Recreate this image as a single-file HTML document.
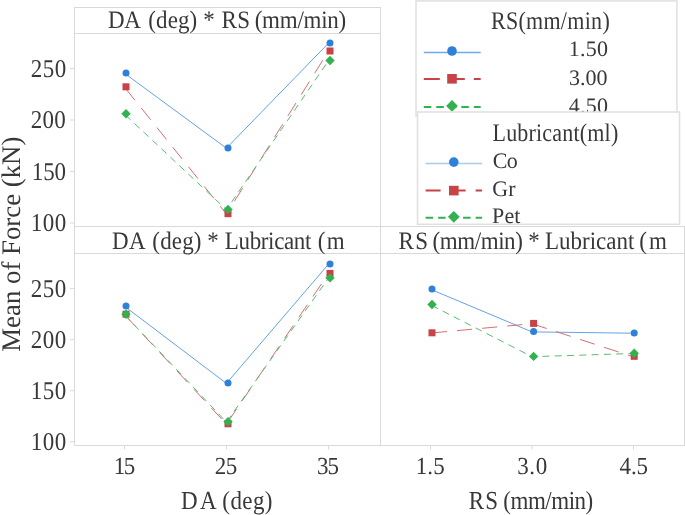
<!DOCTYPE html>
<html><head><meta charset="utf-8"><style>
html,body{margin:0;padding:0;background:#fff;}
body{width:685px;height:515px;overflow:hidden;}
svg{display:block;will-change:transform;font-family:"Liberation Serif",serif;}
text{fill:#383838;text-rendering:geometricPrecision;}
</style></head><body>
<svg width="685" height="515" viewBox="0 0 685 515">
<rect width="685" height="515" fill="#fff"/>
<rect x="74.5" y="7.5" width="306.0" height="219.0" fill="none" stroke="#d9d9d9" stroke-width="1"/>
<line x1="74.5" y1="33.5" x2="380.5" y2="33.5" stroke="#d9d9d9" stroke-width="1"/>
<rect x="74.5" y="226.5" width="306.0" height="219.0" fill="none" stroke="#d9d9d9" stroke-width="1"/>
<line x1="74.5" y1="253.5" x2="380.5" y2="253.5" stroke="#d9d9d9" stroke-width="1"/>
<rect x="380.5" y="226.5" width="304.0" height="219.0" fill="none" stroke="#d9d9d9" stroke-width="1"/>
<line x1="380.5" y1="253.5" x2="684.5" y2="253.5" stroke="#d9d9d9" stroke-width="1"/>
<text transform="translate(108.04,28.10) scale(1,1.0907)" font-size="23" letter-spacing="-0.311">DA</text>
<text transform="translate(148.37,28.10) scale(1,1.0907)" font-size="23" letter-spacing="0.090">(deg)</text>
<text transform="translate(203.17,28.10) scale(1,1.0907)" font-size="23">*</text>
<text transform="translate(221.52,28.10) scale(1,1.0907)" font-size="23" letter-spacing="0.309">RS</text>
<text transform="translate(254.71,28.10) scale(1,1.0907)" font-size="23" letter-spacing="-0.258">(mm/min)</text>
<text transform="translate(111.88,248.56) scale(1,1.0907)" font-size="23" letter-spacing="0.616">DA</text>
<text transform="translate(152.36,248.56) scale(1,1.0907)" font-size="23" letter-spacing="0.153">(deg)</text>
<text transform="translate(207.20,248.56) scale(1,1.0907)" font-size="23">*</text>
<text transform="translate(224.82,248.56) scale(1,1.0907)" font-size="23" letter-spacing="-0.358">Lubricant</text>
<text transform="translate(317.71,248.56) scale(1,1.0907)" font-size="23" letter-spacing="1.290">(m</text>
<text transform="translate(398.52,248.89) scale(1,1.0907)" font-size="23" letter-spacing="1.513">RS</text>
<text transform="translate(432.52,248.89) scale(1,1.0907)" font-size="23" letter-spacing="-0.419">(mm/min)</text>
<text transform="translate(528.29,248.89) scale(1,1.0907)" font-size="23">*</text>
<text transform="translate(545.10,248.89) scale(1,1.0907)" font-size="23" letter-spacing="-0.027">Lubricant</text>
<text transform="translate(639.34,248.89) scale(1,1.0907)" font-size="23" letter-spacing="1.992">(m</text>
<line x1="70" y1="68.5" x2="74.5" y2="68.5" stroke="#d9d9d9" stroke-width="1"/>
<text transform="translate(66.62,76.88) scale(1,1.1129)" font-size="23.00" text-anchor="end" letter-spacing="0.431">250</text>
<line x1="70" y1="120.0" x2="74.5" y2="120.0" stroke="#d9d9d9" stroke-width="1"/>
<text transform="translate(66.11,128.47) scale(1,1.1129)" font-size="23.00" text-anchor="end" letter-spacing="0.263">200</text>
<line x1="70" y1="171.5" x2="74.5" y2="171.5" stroke="#d9d9d9" stroke-width="1"/>
<text transform="translate(65.98,179.89) scale(1,1.1129)" font-size="23.00" text-anchor="end" letter-spacing="-0.097">150</text>
<line x1="70" y1="223.0" x2="74.5" y2="223.0" stroke="#d9d9d9" stroke-width="1"/>
<text transform="translate(66.62,231.25) scale(1,1.1129)" font-size="23.00" text-anchor="end" letter-spacing="0.431">100</text>
<line x1="70" y1="288.6" x2="74.5" y2="288.6" stroke="#d9d9d9" stroke-width="1"/>
<text transform="translate(66.62,296.85) scale(1,1.1129)" font-size="23.00" text-anchor="end" letter-spacing="0.431">250</text>
<line x1="70" y1="339.67" x2="74.5" y2="339.67" stroke="#d9d9d9" stroke-width="1"/>
<text transform="translate(66.62,347.92) scale(1,1.1129)" font-size="23.00" text-anchor="end" letter-spacing="0.431">200</text>
<line x1="70" y1="390.74" x2="74.5" y2="390.74" stroke="#d9d9d9" stroke-width="1"/>
<text transform="translate(66.62,398.99) scale(1,1.1129)" font-size="23.00" text-anchor="end" letter-spacing="0.431">150</text>
<line x1="70" y1="441.81000000000006" x2="74.5" y2="441.81000000000006" stroke="#d9d9d9" stroke-width="1"/>
<text transform="translate(66.62,450.06) scale(1,1.1129)" font-size="23.00" text-anchor="end" letter-spacing="0.431">100</text>
<line x1="124.5" y1="445.5" x2="124.5" y2="449.5" stroke="#d9d9d9" stroke-width="1"/>
<text transform="translate(123.65,473.82) scale(1,1.0671)" font-size="23.00" text-anchor="middle" letter-spacing="-1.591">15</text>
<line x1="226.5" y1="445.5" x2="226.5" y2="449.5" stroke="#d9d9d9" stroke-width="1"/>
<text transform="translate(225.79,474.26) scale(1,1.0671)" font-size="23.00" text-anchor="middle" letter-spacing="-0.537">25</text>
<line x1="328.5" y1="445.5" x2="328.5" y2="449.5" stroke="#d9d9d9" stroke-width="1"/>
<text transform="translate(327.62,474.26) scale(1,1.0671)" font-size="23.00" text-anchor="middle" letter-spacing="-0.828">35</text>
<line x1="430.5" y1="445.5" x2="430.5" y2="449.5" stroke="#d9d9d9" stroke-width="1"/>
<text transform="translate(430.22,473.90) scale(1,1.0671)" font-size="23.00" text-anchor="middle" letter-spacing="0.148">1.5</text>
<line x1="532" y1="445.5" x2="532" y2="449.5" stroke="#d9d9d9" stroke-width="1"/>
<text transform="translate(532.51,473.90) scale(1,1.0671)" font-size="23.00" text-anchor="middle" letter-spacing="0.651">3.0</text>
<line x1="633.5" y1="445.5" x2="633.5" y2="449.5" stroke="#d9d9d9" stroke-width="1"/>
<text transform="translate(633.73,473.90) scale(1,1.0671)" font-size="23.00" text-anchor="middle" letter-spacing="-0.159">4.5</text>
<text transform="translate(181.10,508.79) scale(1,1.1293)" font-size="23" letter-spacing="2.291">DA</text>
<text transform="translate(222.37,508.79) scale(1,1.1293)" font-size="23" letter-spacing="0.384">(deg)</text>
<text transform="translate(468.74,508.95) scale(1,1.1293)" font-size="23" letter-spacing="1.118">RS</text>
<text transform="translate(503.35,508.95) scale(1,1.1293)" font-size="23" letter-spacing="-0.482">(mm/min)</text>
<text transform="translate(20.40,244.20) rotate(-90)" font-size="26.80" text-anchor="middle">Mean of Force (kN)</text>
<polyline points="124.40,73.20 226.40,148.20 328.40,43.30" fill="none" stroke="#64a2e6" stroke-width="1.0"/>
<circle cx="126" cy="72.9" r="3.5" fill="#2f80d8"/>
<circle cx="228" cy="147.9" r="3.5" fill="#2f80d8"/>
<circle cx="330" cy="43" r="3.5" fill="#2f80d8"/>
<polyline points="124.40,87.10 226.40,214.00 328.40,51.30" fill="none" stroke="#d66e72" stroke-width="1.0" stroke-dasharray="15.2 10" stroke-dashoffset="-1.5"/>
<rect x="122.5" y="83.3" width="7" height="7" fill="#c74346"/>
<rect x="224.5" y="210.2" width="7" height="7" fill="#c74346"/>
<rect x="326.5" y="47.5" width="7" height="7" fill="#c74346"/>
<polyline points="124.40,114.00 226.40,209.70 328.40,60.80" fill="none" stroke="#58be73" stroke-width="1.0" stroke-dasharray="7 5.3" stroke-dashoffset="-1.5"/>
<polygon points="126,109.01 130.69,113.7 126,118.39 121.31,113.7" fill="#31b24e"/>
<polygon points="228,204.71 232.69,209.4 228,214.09 223.31,209.4" fill="#31b24e"/>
<polygon points="330,55.81 334.69,60.5 330,65.19 325.31,60.5" fill="#31b24e"/>
<polyline points="124.40,306.20 226.40,383.40 328.40,264.30" fill="none" stroke="#64a2e6" stroke-width="1.0"/>
<circle cx="126" cy="305.9" r="3.5" fill="#2f80d8"/>
<circle cx="228" cy="383.1" r="3.5" fill="#2f80d8"/>
<circle cx="330" cy="264" r="3.5" fill="#2f80d8"/>
<polyline points="124.40,314.50 226.40,424.10 328.40,273.70" fill="none" stroke="#d66e72" stroke-width="1.0" stroke-dasharray="15.2 10" stroke-dashoffset="-1.5"/>
<rect x="122.5" y="310.7" width="7" height="7" fill="#c74346"/>
<rect x="224.5" y="420.3" width="7" height="7" fill="#c74346"/>
<rect x="326.5" y="269.9" width="7" height="7" fill="#c74346"/>
<polyline points="124.40,314.50 226.40,422.10 328.40,278.20" fill="none" stroke="#58be73" stroke-width="1.0" stroke-dasharray="7 5.3" stroke-dashoffset="-1.5"/>
<polygon points="126,309.51 130.69,314.2 126,318.89 121.31,314.2" fill="#31b24e"/>
<polygon points="228,417.11 232.69,421.8 228,426.49 223.31,421.8" fill="#31b24e"/>
<polygon points="330,273.21 334.69,277.9 330,282.59 325.31,277.9" fill="#31b24e"/>
<polyline points="430.40,289.20 532.00,331.90 632.60,333.20" fill="none" stroke="#64a2e6" stroke-width="1.0"/>
<circle cx="432" cy="288.9" r="3.5" fill="#2f80d8"/>
<circle cx="533.6" cy="331.6" r="3.5" fill="#2f80d8"/>
<circle cx="634.2" cy="332.9" r="3.5" fill="#2f80d8"/>
<polyline points="430.40,333.10 532.00,323.70 632.60,356.60" fill="none" stroke="#d66e72" stroke-width="1.0" stroke-dasharray="15.2 10" stroke-dashoffset="-1.5"/>
<rect x="428.5" y="329.3" width="7" height="7" fill="#c74346"/>
<rect x="530.1" y="319.9" width="7" height="7" fill="#c74346"/>
<rect x="630.7" y="352.8" width="7" height="7" fill="#c74346"/>
<polyline points="430.40,304.80 532.00,356.70 632.60,353.50" fill="none" stroke="#58be73" stroke-width="1.0" stroke-dasharray="7 5.3" stroke-dashoffset="-1.5"/>
<polygon points="432,299.81 436.69,304.5 432,309.19 427.31,304.5" fill="#31b24e"/>
<polygon points="533.6,351.71 538.2900000000001,356.4 533.6,361.09 528.91,356.4" fill="#31b24e"/>
<polygon points="634.2,348.51 638.8900000000001,353.2 634.2,357.89 629.51,353.2" fill="#31b24e"/>
<rect x="416" y="0.9" width="260.9" height="115.1" fill="#fff" stroke="#e0e0e0" stroke-width="1.5"/>
<text transform="translate(490.91,29.25) scale(1,1.1516)" font-size="22.00" text-anchor="start" letter-spacing="0.301">RS(mm/min)</text>
<line x1="423.8" y1="52.5" x2="480.7" y2="52.5" stroke="#6eaae6" stroke-width="1.6"/>
<circle cx="452" cy="51" r="4.8" fill="#2f80d8"/>
<text transform="translate(608.38,56.12) scale(1,1.0064)" font-size="22.00" text-anchor="end" letter-spacing="0.290">1.50</text>
<line x1="423.8" y1="78.9" x2="480.7" y2="78.9" stroke="#c74346" stroke-width="2" stroke-dasharray="16 9"/>
<rect x="447.2" y="74.0" width="9.6" height="9.6" fill="#c74346"/>
<text transform="translate(607.40,84.74) scale(1,1.0064)" font-size="22.00" text-anchor="end">3.00</text>
<line x1="423.8" y1="107" x2="480.7" y2="107" stroke="#31b24e" stroke-width="2" stroke-dasharray="7.5 5"/>
<polygon points="452,100.0 457.9,105.9 452,111.80000000000001 446.1,105.9" fill="#31b24e"/>
<text transform="translate(608.38,113.14) scale(1,1.0064)" font-size="22.00" text-anchor="end" letter-spacing="0.290">4.50</text>
<rect x="417.5" y="112" width="262.0" height="112.30000000000001" fill="#fff" stroke="#e0e0e0" stroke-width="1.5"/>
<text transform="translate(492.54,140.93) scale(1,1.1516)" font-size="22.00" text-anchor="start" letter-spacing="0.189">Lubricant(ml)</text>
<line x1="425.6" y1="163.5" x2="482.1" y2="163.5" stroke="#a9c9ef" stroke-width="1.3"/>
<circle cx="453.8" cy="162.1" r="4.8" fill="#2f80d8"/>
<text transform="translate(492.75,167.65) scale(1,1.0064)" font-size="22.00" text-anchor="start" letter-spacing="-0.660">Co</text>
<line x1="425.6" y1="190.5" x2="482.1" y2="190.5" stroke="#c74346" stroke-width="2" stroke-dasharray="15 10"/>
<rect x="449.0" y="185.79999999999998" width="9.6" height="9.6" fill="#c74346"/>
<text transform="translate(492.17,195.93) scale(1,1.0064)" font-size="22.00" text-anchor="start" letter-spacing="0.211">Gr</text>
<line x1="425.6" y1="217.7" x2="482.1" y2="217.7" stroke="#31b24e" stroke-width="2" stroke-dasharray="7.5 5"/>
<polygon points="453.8,210.9 459.7,216.8 453.8,222.70000000000002 447.90000000000003,216.8" fill="#31b24e"/>
<text transform="translate(491.94,222.53) scale(1,1.0064)" font-size="22.00" text-anchor="start" letter-spacing="0.210">Pet</text>
</svg></body></html>
